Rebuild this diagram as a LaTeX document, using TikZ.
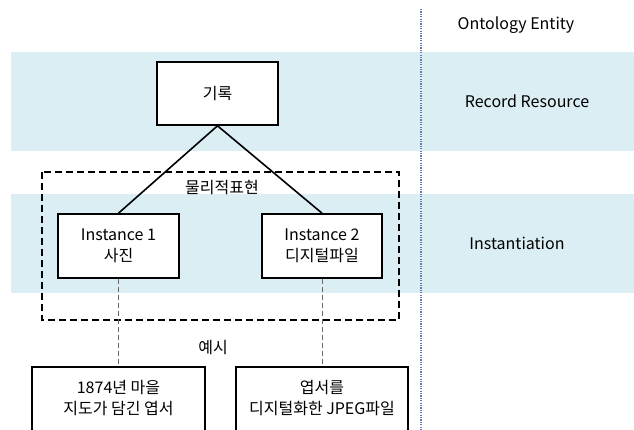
\documentclass[tikz,border=0pt]{standalone}
\usepackage{fontspec}
\setmainfont{Noto Sans CJK KR}
\begin{document}
\begin{tikzpicture}[x=1pt,y=-1pt,
  every node/.style={font=\fontsize{16}{21}\selectfont, text=black},
  band/.style={fill=bandblue, draw=none},
  ebox/.style={draw=black, line width=1.6pt, fill=white, align=center, inner sep=0pt},
  conn/.style={draw=black, line width=1.6pt},
  thindash/.style={draw=black!60, line width=0.7pt, dash pattern=on 5pt off 3pt},
  groupbox/.style={draw=black, line width=2.2pt, dash pattern=on 7pt off 4pt},
  divider/.style={draw=divblue, line width=1.8pt, dash pattern=on 1.2pt off 1.2pt},
  lbl/.style={inner sep=0pt}
]
\definecolor{bandblue}{RGB}{218,238,243}
\definecolor{divblue}{RGB}{95,125,175}
\useasboundingbox (0,0) rectangle (634,430);
\clip (0,0) rectangle (634,430);
% bands
\fill[band] (11,52) rectangle (634,151);
\fill[band] (11,194) rectangle (634,293);
% divider
\coordinate (dtop) at (421,9);
\coordinate (dbot) at (421,430);
\draw[divider] (dtop) -- (dbot);
% right labels
\node[lbl] (oe) at (516,25) {Ontology Entity};
\node[lbl] (rr) at (527,101) {Record Resource};
\node[lbl] (inst) at (517,243) {Instantiation};
% group box
\coordinate (g1) at (42,172);
\coordinate (g2) at (399,320);
\draw[groupbox] (g1) rectangle (g2);
% nodes
\node[ebox, minimum width=121pt, minimum height=63pt] (rec) at (217.5,93.5) {기록};
\node[ebox, minimum width=121pt, minimum height=64pt] (i1) at (118.5,246) {Instance 1\\사진};
\node[ebox, minimum width=120pt, minimum height=64pt] (i2) at (322,246) {Instance 2\\디지털파일};
\node[ebox, minimum width=173pt, minimum height=90pt, anchor=north] (e1) at (118.5,366) {};
\node[ebox, minimum width=172pt, minimum height=90pt, anchor=north] (e2) at (322,366) {};
\node[lbl, align=center] (e1t) at (118.5,398.5) {1874년 마을\\지도가 담긴 엽서};
\node[lbl, align=center] (e2t) at (322,398.5) {엽서를\\디지털화한 JPEG파일};
% connectors
\draw[conn] (rec.south) -- (i1.north);
\draw[conn] (rec.south) -- (i2.north);
\draw[thindash] (i1.south) -- (e1.north);
\draw[thindash] (i2.south) -- (e2.north);
% labels
\node[lbl] (phys) at (222,188) {물리적표현};
\node[lbl] (ex) at (213,348) {예시};
\end{tikzpicture}
\end{document}
